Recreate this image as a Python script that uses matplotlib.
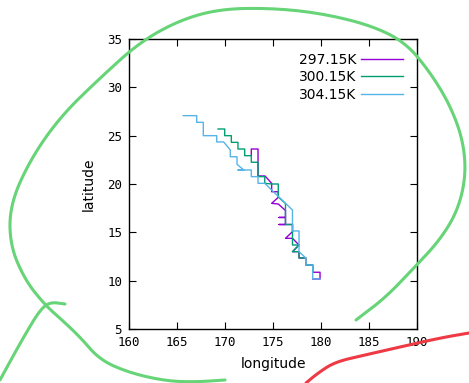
import matplotlib
matplotlib.use("Agg")
import matplotlib.pyplot as plt
from matplotlib.lines import Line2D

# storm tracks (lon, lat)
labels = ["297.15K", "300.15K", "304.15K"]
colors = ["#9400d3", "#009e73", "#56b4e9"]

lon_297 = [172.74, 172.74, 173.44, 173.44, 173.44, 174.17, 174.86, 174.86, 175.55, 175.55,
           174.86, 175.55, 176.30, 176.30, 175.63, 176.30, 176.30, 175.63, 176.30, 177.03,
           177.03, 176.30, 177.03, 177.71, 177.03, 177.71, 177.71, 178.41, 178.41, 179.14,
           179.14, 179.90, 179.90, 179.14]
lat_297 = [22.93, 23.62, 23.62, 22.25, 20.83, 20.83, 20.07, 19.20, 19.20, 18.62,
           18.00, 17.93, 17.26, 16.54, 16.54, 16.54, 15.81, 15.81, 15.81, 15.81,
           15.07, 14.38, 14.38, 13.69, 13.00, 13.00, 12.35, 12.35, 11.62, 11.62,
           10.87, 10.87, 10.17, 10.17]

lon_300 = [169.27, 169.97, 169.97, 170.66, 170.66, 171.35, 171.35, 172.05, 172.05, 172.74,
           172.74, 173.44, 173.44, 174.14, 174.14, 174.86, 175.55, 175.55, 176.30, 176.30,
           177.03, 177.03, 177.71, 177.03, 177.71, 177.71, 178.41, 178.41, 179.14, 179.14]
lat_300 = [25.69, 25.69, 25.00, 25.00, 24.31, 24.31, 23.62, 23.62, 22.93, 22.93,
           22.25, 22.25, 20.76, 20.76, 20.07, 20.00, 20.00, 18.66, 17.98, 15.81,
           15.81, 13.69, 13.69, 13.00, 13.00, 12.35, 12.35, 11.62, 11.62, 10.87]

lon_304 = [165.66, 167.05, 167.05, 167.74, 167.74, 169.14, 169.14, 169.86, 170.55, 170.55,
           171.25, 171.25, 171.95, 171.35, 172.74, 172.74, 173.44, 173.44, 174.14, 177.03,
           177.03, 177.71, 177.71, 177.71, 178.41, 178.41, 179.14, 179.14, 179.90]
lat_304 = [27.07, 27.07, 26.38, 26.38, 25.00, 25.00, 24.35, 24.35, 23.52, 22.82,
           22.82, 22.04, 21.45, 21.45, 21.45, 20.76, 20.76, 20.07, 20.07, 17.31,
           15.14, 15.14, 13.69, 13.00, 12.35, 11.62, 11.62, 10.17, 10.17]

tracks = [(lon_297, lat_297), (lon_300, lat_300), (lon_304, lat_304)]

# hand drawn marks over the picture (pixel positions in the 469x383 image)
green_loop = [(356, 320), (385, 298), (412, 270), (440, 240), (458, 210), (466, 175), (463, 140),
              (450, 105), (430, 72), (405, 42), (370, 25), (320, 13), (270, 8), (220, 9),
              (180, 20), (140, 42), (100, 78), (60, 117), (30, 160), (10, 205), (10, 245),
              (25, 280), (45, 305), (62, 320), (80, 337), (100, 360), (130, 373), (166, 381),
              (195, 382), (225, 380)]
green_tick = [(0, 380), (12, 358), (26, 333), (40, 310), (50, 302), (65, 304)]
red_mark = [(306, 383), (318, 373), (335, 362), (365, 355), (400, 347), (440, 338), (469, 333)]


def smooth(pts, rounds=3):
    # corner cutting so the pen strokes look round
    for _ in range(rounds):
        out = [pts[0]]
        for (x0, y0), (x1, y1) in zip(pts[:-1], pts[1:]):
            out.append((0.75 * x0 + 0.25 * x1, 0.75 * y0 + 0.25 * y1))
            out.append((0.25 * x0 + 0.75 * x1, 0.25 * y0 + 0.75 * y1))
        out.append(pts[-1])
        pts = out
    return pts


fig = plt.figure(figsize=(4.69, 3.83), dpi=100)
ax = fig.add_axes([129 / 469, 1 - 329 / 383, 288 / 469, 290 / 383])

for (x, y), lab, c in zip(tracks, labels, colors):
    ax.plot(x, y, color=c, lw=1.0, label=lab)

ax.set_xlim(160, 190)
ax.set_ylim(5, 35)
ax.set_xticks(range(160, 191, 5))
ax.set_yticks(range(5, 36, 5))
ax.tick_params(direction="in", length=5, width=0.8, top=True, right=True, pad=5)
for t in ax.get_xticklabels() + ax.get_yticklabels():
    t.set_family("DejaVu Sans Mono")
    t.set_fontsize(9)
for s in ax.spines.values():
    s.set_linewidth(1.0)
ax.set_xlabel("longitude", fontsize=10, labelpad=6)
ax.set_ylabel("latitude", fontsize=10, labelpad=8)

ax.legend(loc="upper right", frameon=False, markerfirst=False, fontsize=10,
          handlelength=3.0, labelspacing=0.25, borderaxespad=0.6, handletextpad=0.4)


def draw_mark(pts, color):
    pts = smooth(pts)
    xs = [p[0] / 469 for p in pts]
    ys = [1 - p[1] / 383 for p in pts]
    fig.add_artist(Line2D(xs, ys, color=color, lw=2.2, transform=fig.transFigure,
                          solid_capstyle="round", solid_joinstyle="round"))


draw_mark(green_loop, "#66d477")
draw_mark(green_tick, "#66d477")
draw_mark(red_mark, "#ee3a44")

fig.savefig("out.png", dpi=100)
